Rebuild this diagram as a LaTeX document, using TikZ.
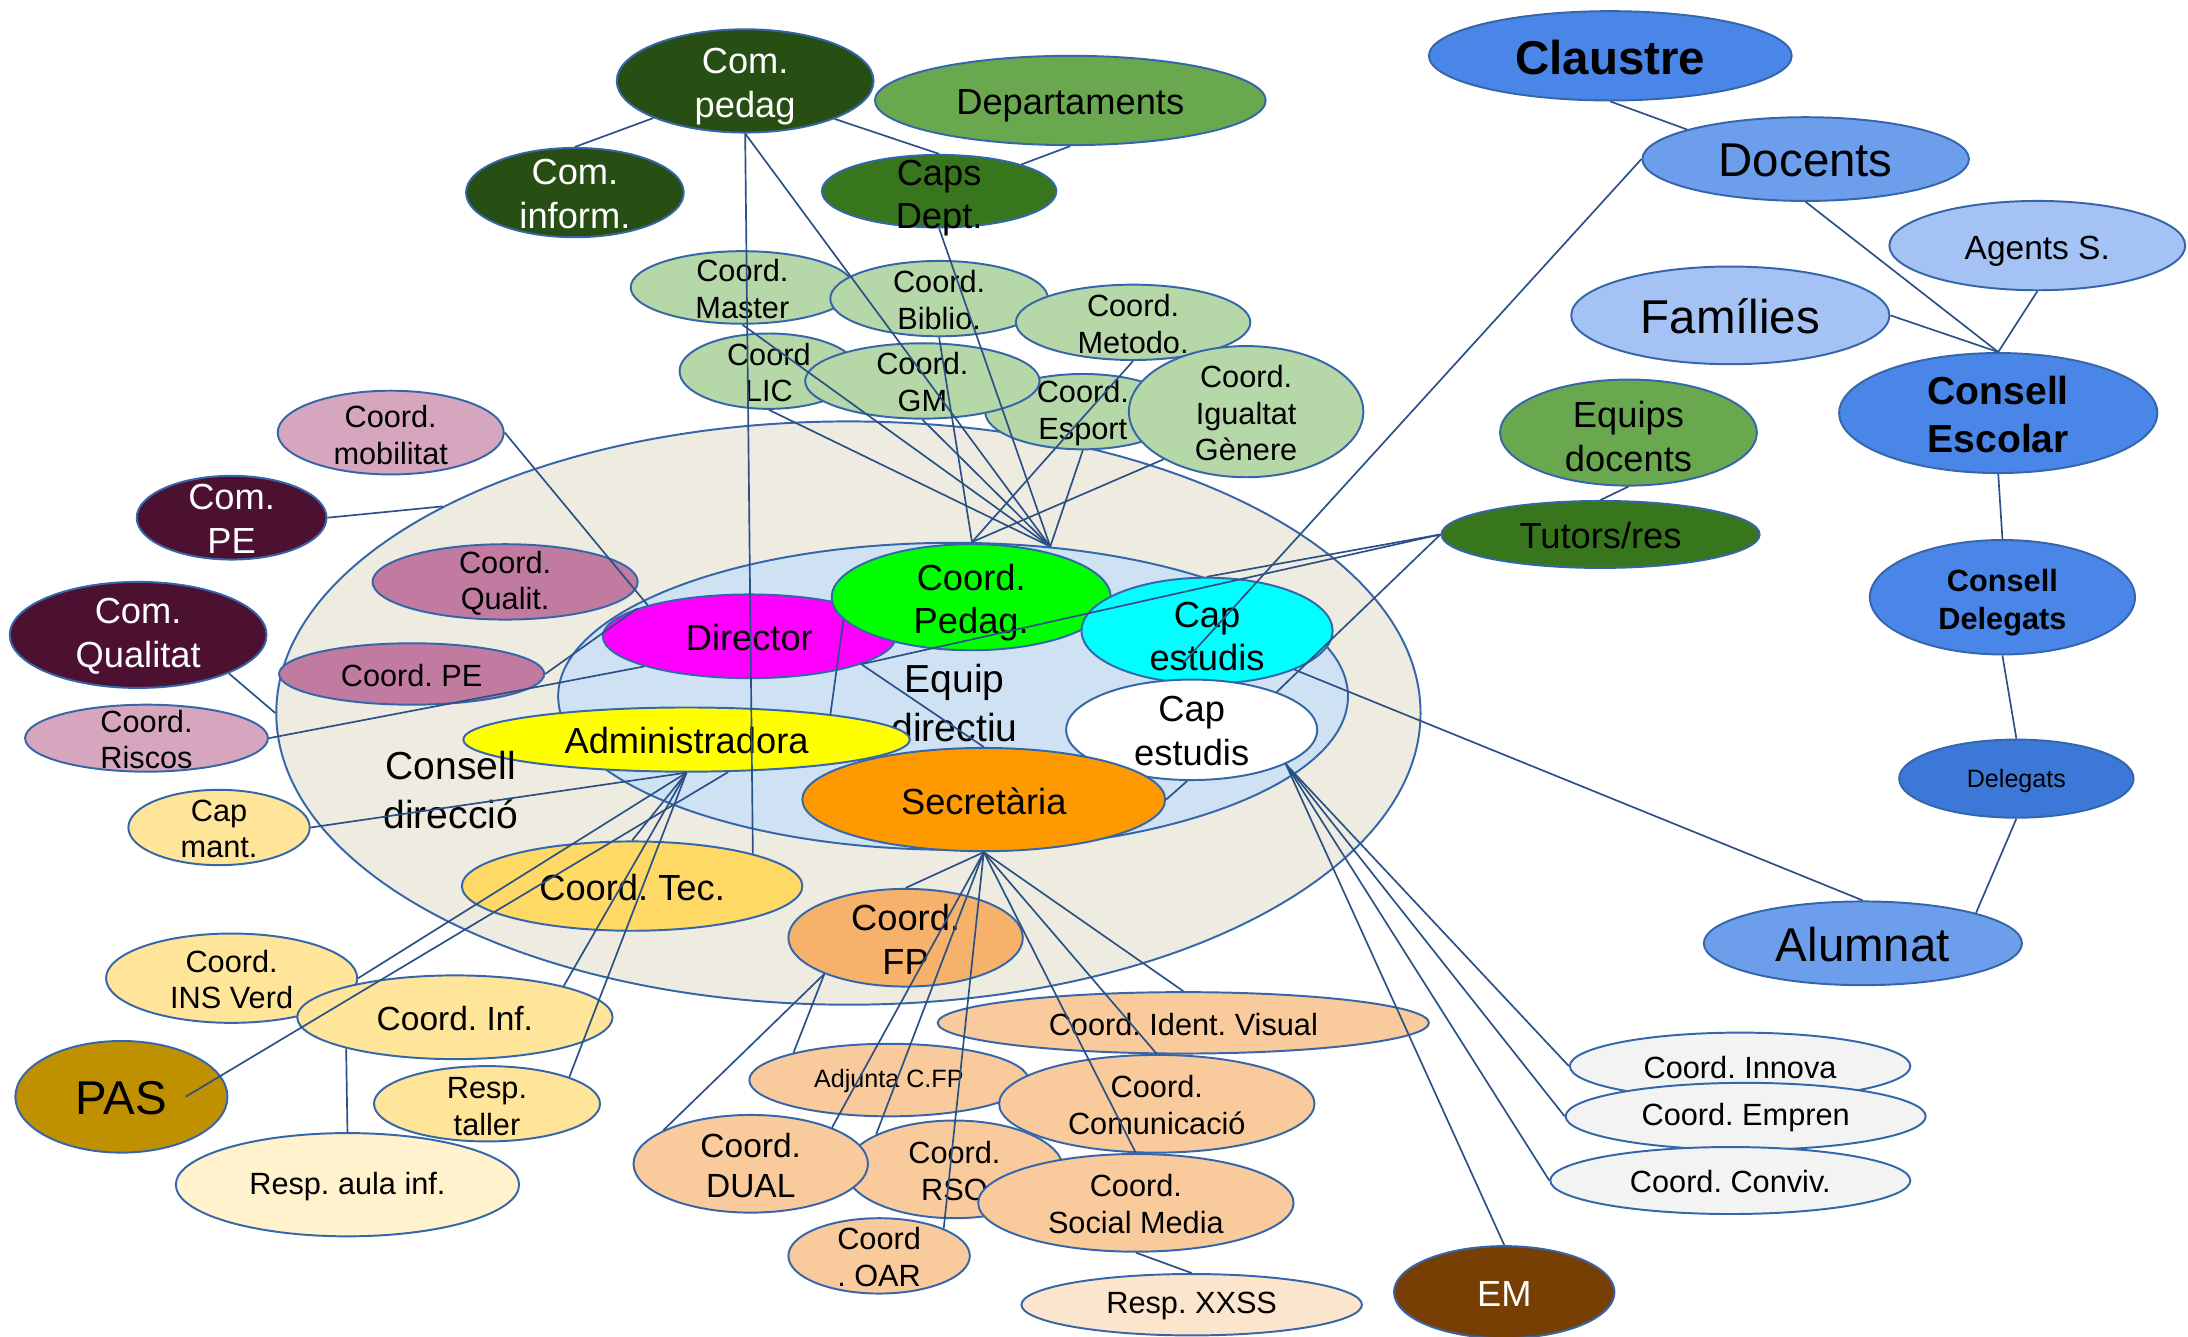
\documentclass[tikz,border=0pt]{standalone}
\usepackage{fontspec}
\setmainfont{Liberation Sans}
\usetikzlibrary{shapes.geometric,calc}
\definecolor{cB}{HTML}{3566AA}
\definecolor{cL}{HTML}{2A5085}
\definecolor{cDG}{HTML}{274E13}
\definecolor{cMG}{HTML}{6AA84F}
\definecolor{cG}{HTML}{38761D}
\definecolor{cLG}{HTML}{B6D7A8}
\definecolor{cBl}{HTML}{4A86E8}
\definecolor{cBm}{HTML}{6D9EEB}
\definecolor{cBlt}{HTML}{A4C2F4}
\definecolor{cBd}{HTML}{3C78D8}
\definecolor{cPk}{HTML}{D5A6BD}
\definecolor{cPm}{HTML}{C27BA0}
\definecolor{cMar}{HTML}{4C1130}
\definecolor{cYa}{HTML}{FFE599}
\definecolor{cYb}{HTML}{FFD966}
\definecolor{cYc}{HTML}{FFF2CC}
\definecolor{cGold}{HTML}{BF9000}
\definecolor{cOa}{HTML}{F6B26B}
\definecolor{cOb}{HTML}{F9CB9C}
\definecolor{cOc}{HTML}{FCE5CD}
\definecolor{cBrn}{HTML}{783F04}
\definecolor{cGr}{HTML}{F3F3F3}
\definecolor{cMag}{HTML}{FF00FF}
\definecolor{cLime}{HTML}{00FF00}
\definecolor{cCyan}{HTML}{00FFFF}
\definecolor{cOr}{HTML}{FF9900}
\definecolor{cYel}{HTML}{FFFF00}
\definecolor{cBeige}{HTML}{EEECE1}
\definecolor{cInner}{HTML}{CFE2F3}
\tikzset{
  ell/.style={ellipse, draw=cB, line width=1.4pt, inner sep=0pt},
  lbl/.style={align=center, inner sep=0pt, text=black, yshift=-1pt},
  conn/.style={draw=cL, line width=1.2pt},
  f18/.style={font=\fontsize{18}{21.6}\selectfont},
  f22/.style={font=\fontsize{22}{26.4}\selectfont},
  f24/.style={font=\fontsize{24}{28.8}\selectfont},
  f26/.style={font=\fontsize{26}{31.2}\selectfont},
  f28/.style={font=\fontsize{28}{35}\selectfont},
  f34/.style={font=\fontsize{34}{40}\selectfont},
  b22/.style={font=\bfseries\fontsize{22}{27}\selectfont},
  b28/.style={font=\bfseries\fontsize{28}{34}\selectfont},
  b34/.style={font=\bfseries\fontsize{34}{40}\selectfont},
  dn/.style={yshift=-#1pt},
}
\newcommand\EN[8]{%
  \node[ell, fill=#6, minimum width=2*#4pt, minimum height=2*#5pt] (#1) at (#2,#3) {};
  \node[lbl, #7] (#1-t) at (#1.center) {#8};}
\begin{document}
\frenchspacing
\begin{tikzpicture}[x=1pt,y=-1pt]
\useasboundingbox (0,0) rectangle (1568,958);
% background groups
\node[ell, fill=cBeige, minimum width=820pt, minimum height=418pt] (consell) at (608,511) {};
\node[ell, fill=cInner, minimum width=566pt, minimum height=220pt] (equip) at (683,499) {};
\node[lbl, f28] (equip-t) at (684,503) {Equip\\directiu};
% top
\EN{depts}{767}{72}{140}{32}{cMG}{f26,dn=3}{Departaments}
\EN{cpedag}{534}{58}{92}{37}{cDG}{f26,text=white,dn=3}{Com.\\pedag}
\EN{cinform}{412}{138}{78}{32}{cDG}{f26,text=white}{Com.\\inform.}
\EN{caps}{673}{137}{84}{26}{cG}{f26,dn=4}{Caps\\Dept.}
\EN{master}{532}{206}{80}{26}{cLG}{f22}{Coord.\\Master}
\EN{biblio}{673}{214}{78}{27}{cLG}{f22}{Coord.\\Biblio.}
\EN{metodo}{812}{231}{84}{27}{cLG}{f22}{Coord.\\Metodo.}
\EN{lic}{551}{266}{64}{27}{cLG}{f22}{Coord\\LIC}
\EN{esport}{776}{295}{70}{27}{cLG}{f22}{Coord.\\Esport}
\EN{gm}{661}{273}{84}{27}{cLG}{f22}{Coord.\\GM}
\EN{igualtat}{893}{295}{84}{47}{cLG}{f22}{Coord.\\Igualtat\\Gènere}
% right
\EN{claustre}{1154}{40}{130}{32}{cBl}{b34}{Claustre}
\EN{docents}{1294}{114}{117}{30}{cBm}{f34}{Docents}
\EN{agents}{1460}{176}{106}{32}{cBlt}{f24,dn=3}{Agents S.}
\EN{families}{1240}{226}{114}{35}{cBlt}{f34}{Famílies}
\EN{cescolar}{1432}{296}{114}{43}{cBl}{b28}{Consell\\Escolar}
\EN{equips}{1167}{310}{92}{38}{cMG}{f26,dn=2}{Equips\\docents}
\EN{tutors}{1147}{383}{114}{24}{cG}{f26}{Tutors/res}
\EN{cdeleg}{1435}{428}{95}{41}{cBl}{b22,dn=3}{Consell\\Delegats}
\EN{delegats}{1445}{558}{84}{28}{cBd}{f18,dn=1}{Delegats}
\EN{alumnat}{1335}{676}{114}{30}{cBm}{f34}{Alumnat}
% left
\EN{mobilitat}{280}{310}{81}{30}{cPk}{f22,dn=1}{Coord.\\mobilitat}
\EN{compe}{166}{371}{68}{30}{cMar}{f26,text=white}{Com.\\PE}
\EN{qualit}{362}{417}{95}{27}{cPm}{f22}{Coord.\\Qualit.}
\EN{comqual}{99}{455}{92}{38}{cMar}{f26,text=white}{Com.\\Qualitat}
\EN{coordpe}{295}{483}{95}{22}{cPm}{f22}{Coord. PE}
\EN{riscos}{105}{529}{87}{24}{cPk}{f22}{Coord.\\Riscos}
\EN{capmant}{157}{593}{65}{27}{cYa}{f22}{Cap\\mant.}
% equip directiu
\EN{director}{537}{456}{105}{30}{cMag}{f26}{Director}
\EN{pedag}{696}{428}{100}{38}{cLime}{f26,dn=3}{Coord.\\Pedag.}
\EN{capcyan}{865}{452}{90}{38}{cCyan}{f26,dn=3}{Cap\\estudis}
\EN{capwhite}{854}{523}{90}{36}{white}{f26}{Cap\\estudis}
\EN{secr}{705}{573}{130}{37}{cOr}{f26}{Secretària}
\EN{adm}{492}{530}{160}{23}{cYel}{f26}{Administradora}
\node[lbl, f28] (consell-t) at (323,565) {Consell\\direcció};
% bottom
\EN{tec}{453}{635}{122}{32}{cYb}{f26}{Coord. Tec.}
\EN{fp}{649}{672}{84}{35}{cOa}{f26}{Coord.\\FP}
\EN{insverd}{166}{701}{90}{32}{cYa}{f22}{Coord.\\INS Verd}
\EN{inf}{326}{729}{113}{30}{cYa}{f24}{Coord. Inf.}
\EN{pas}{87}{786}{76}{40}{cGold}{f34}{PAS}
\EN{taller}{349}{791}{81}{27}{cYa}{f22,dn=1}{Resp.\\taller}
\EN{aula}{249}{849}{123}{37}{cYc}{f22}{Resp. aula inf.}
\EN{ident}{848}{733}{176}{22}{cOb}{f22}{Coord. Ident. Visual}
\EN{adjunta}{637}{774}{100}{26}{cOb}{f18}{Adjunta C.FP}
\EN{comunic}{829}{791}{113}{35}{cOb}{f22}{Coord.\\Comunicació}
\EN{rso}{684}{838}{78}{35}{cOb}{f22}{Coord.\\RSO}
\EN{dual}{538}{834}{84}{35}{cOb}{f24}{Coord.\\DUAL}
\EN{oar}{630}{900}{65}{27}{cOb}{f22}{Coord\\. OAR}
\EN{social}{814}{862}{113}{35}{cOb}{f22}{Coord.\\Social Media}
\EN{xxss}{854}{935}{122}{22}{cOc}{f22}{Resp. XXSS}
\EN{em}{1078}{926}{79}{33}{cBrn}{f26,text=white}{EM}
\EN{innova}{1247}{764}{122}{24}{cGr}{f22}{Coord. Innova}
\EN{empren}{1251}{800}{129}{24}{cGr}{f22}{Coord. Empren}
\EN{conviv}{1240}{846}{129}{24}{cGr}{f22}{Coord. Conviv.}
% connection points
\coordinate (P1) at (equip.83);
\coordinate (P2) at (equip.57);
\coordinate (dend) at (848,475);
\coordinate (pasend) at (133,786);
% connectors
\draw[conn] (cinform.north) -- (cpedag.202);
\draw[conn] (cpedag.337) -- (caps.north);
\draw[conn] (depts.south) -- (caps.18);
\draw[conn] (cpedag.south) -- (tec.15);
\draw[conn] (cpedag.south) -- (P2);
\draw[conn] (caps.south) -- (P2);
\draw[conn] (master.south) -- (P2);
\draw[conn] (lic.south) -- (P2);
\draw[conn] (gm.south) -- (P2);
\draw[conn] (esport.south) -- (P2);
\draw[conn] (biblio.south) -- (P1);
\draw[conn] (metodo.south) -- (P1);
\draw[conn] (igualtat.210) -- (P1);
\draw[conn] (claustre.south) -- (docents.166);
\draw[conn] (docents.south) -- (cescolar.north);
\draw[conn] (families.east) -- (cescolar.north);
\draw[conn] (agents.south) -- (cescolar.north);
\draw[conn] (cescolar.south) -- (cdeleg.north);
\draw[conn] (cdeleg.south) -- (delegats.north);
\draw[conn] (delegats.south) -- (alumnat.15);
\draw[conn] (capcyan.336) -- (alumnat.north);
\draw[conn] (docents.west) -- (dend);
\draw[conn] (equips.south) -- (tutors.north);
\draw[conn] (tutors.west) -- (capcyan.north);
\draw[conn] (tutors.west) -- (director.346);
\draw[conn] (tutors.west) -- (capwhite.24);
\draw[conn] (mobilitat.east) -- (director.163);
\draw[conn] (compe.east) -- (consell.153);
\draw[conn] (comqual.337) -- (consell.west);
\draw[conn] (coordpe.east) -- (director.166);
\draw[conn] (riscos.east) -- (director.196);
\draw[conn] (capmant.east) -- (adm.south);
\draw[conn] (director.346) -- (secr.north);
\draw[conn] (pedag.190) -- (adm.10);
\draw[conn] (adm.south) -- (insverd.east);
\draw[conn] (adm.322) -- (pasend);
\draw[conn] (adm.south) -- (tec.north);
\draw[conn] (adm.south) -- (inf.16);
\draw[conn] (adm.south) -- (taller.18);
\draw[conn] (inf.196) -- (aula.north);
\draw[conn] (secr.south) -- (fp.north);
\draw[conn] (secr.south) -- (dual.24);
\draw[conn] (secr.south) -- (rso.156);
\draw[conn] (secr.south) -- (oar.23);
\draw[conn] (secr.south) -- (social.north);
\draw[conn] (secr.south) -- (comunic.north);
\draw[conn] (secr.south) -- (ident.north);
\draw[conn] (fp.204) -- (adjunta.164);
\draw[conn] (fp.204) -- (dual.159);
\draw[conn] (capwhite.265) -- (secr.east);
\draw[conn] (capwhite.340) -- (innova.west);
\draw[conn] (capwhite.340) -- (empren.west);
\draw[conn] (capwhite.340) -- (conviv.west);
\draw[conn] (capwhite.340) -- (em.north);
\draw[conn] (social.south) -- (xxss.north);
\end{tikzpicture}
\end{document}
